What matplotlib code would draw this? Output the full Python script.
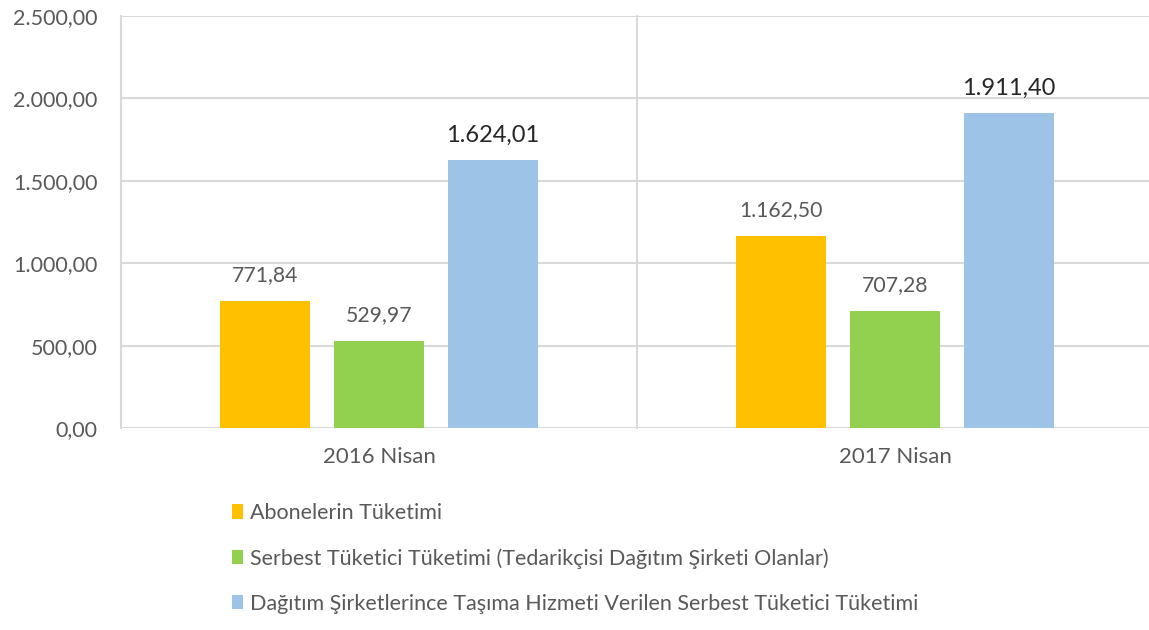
import matplotlib
matplotlib.use("Agg")
import matplotlib.pyplot as plt
from matplotlib.patches import Patch
import numpy as np

categories = ["2016 Nisan", "2017 Nisan"]
series_names = [
    "Abonelerin Tüketimi",
    "Serbest Tüketici Tüketimi (Tedarikçisi Dağıtım Şirketi Olanlar)",
    "Dağıtım Şirketlerince Taşıma Hizmeti Verilen Serbest Tüketici Tüketimi",
]
abone = [771.84, 1162.50]
serbest = [529.97, 707.28]
dagitim = [1624.01, 1911.40]
label_texts = [["771,84", "1.162,50"], ["529,97", "707,28"], ["1.624,01", "1.911,40"]]
yticks = [0, 500, 1000, 1500, 2000, 2500]
ytick_labels = ["0,00", "500,00", "1.000,00", "1.500,00", "2.000,00", "2.500,00"]

colors = ["#FFC000", "#92D050", "#9DC3E6"]
plt.rcParams['font.family'] = ['Lato', 'DejaVu Sans']

W, H = 1149, 630
fig = plt.figure(figsize=(W / 100, H / 100), dpi=100)
left, right, top, bottom = 121, 1153, 16, 428
ax = fig.add_axes([left / W, 1 - bottom / H, (right - left) / W, (bottom - top) / H])
ax.set_xlim(-0.5, 1.5)
ax.set_ylim(0, 2500)

x = np.arange(len(categories))
width = 0.176
step = 0.221
data = [abone, serbest, dagitim]
for i, vals in enumerate(data):
    pos = x + (i - 1) * step
    bars = ax.bar(pos, vals, width, color=colors[i], zorder=3)
    for j, b in enumerate(bars):
        if i == 2:
            ax.annotate(label_texts[i][j], (b.get_x() + b.get_width() / 2, b.get_height()),
                        xytext=(0, 13), textcoords="offset points", ha="center", va="baseline",
                        fontsize=17, color="#262626", zorder=4)
        else:
            ax.annotate(label_texts[i][j], (b.get_x() + b.get_width() / 2, b.get_height()),
                        xytext=(0, 14.4), textcoords="offset points", ha="center", va="baseline",
                        fontsize=15.3, color="#595959", zorder=4)

ax.set_yticks(yticks)
ax.set_yticklabels(ytick_labels)
ax.set_xticks(x)
ax.set_xticklabels(categories)
ax.tick_params(axis="both", length=0, labelcolor="#595959")
ax.tick_params(axis="y", pad=17, labelsize=15.5)
ax.tick_params(axis="x", pad=14, labelsize=16)
ax.yaxis.grid(True, color="#D9D9D9", linewidth=1.5, zorder=0)
for xv in [-0.5, 0.5, 1.5]:
    ax.axvline(xv, color="#D9D9D9", linewidth=1.5, zorder=0, clip_on=False)
for s in ax.spines.values():
    s.set_visible(False)

handles = [Patch(facecolor=c, edgecolor="none") for c in colors]
fig.legend(handles, series_names, loc="upper left", bbox_to_anchor=(232 / W, 1 - 503 / H),
           frameon=False, fontsize=15.5, labelcolor="#595959", handlelength=0.51,
           handleheight=0.65, handletextpad=0.33, labelspacing=1.16, borderaxespad=0,
           borderpad=0)

fig.savefig("out.png", dpi=100)
